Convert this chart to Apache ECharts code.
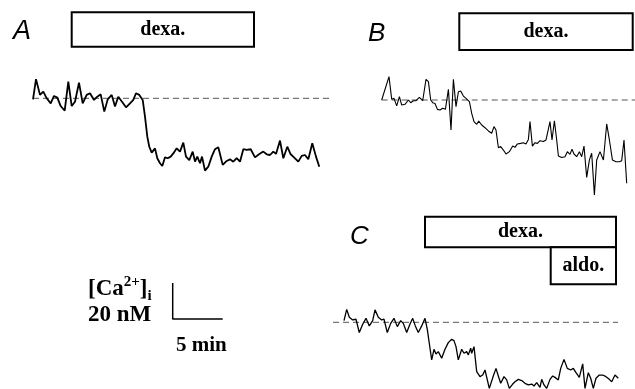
<!DOCTYPE html>
<html><head><meta charset="utf-8">
<script src="https://cdn.jsdelivr.net/npm/echarts@6/dist/echarts.min.js"></script>
<style>html,body{margin:0;padding:0;background:#fff}#c{width:635px;height:389px}</style>
</head><body><div id="c"></div>
<script>
// time in min, [Ca2+]i change in nM relative to baseline
var traceA = [[0,-0.6],[0.3,10.6],[0.7,1.9],[1.03,3.7],[1.37,0],[1.77,-2.8],[2.1,1.3],[2.43,0.4],[2.77,-4.3],[3.17,-6.9],[3.53,9.3],[3.87,-4.3],[4.2,-1.9],[4.6,8.7],[4.97,-2.8],[5.37,1.9],[5.7,2.8],[6.1,-0.9],[6.43,0.9],[6.77,2.2],[7.13,-7.4],[7.47,-0.6],[7.87,1.9],[8.2,-4.6],[8.53,0.9],[8.9,-1.9],[9.3,-5.0],[9.7,-2.8],[10.03,-0.9],[10.3,2.8],[10.63,1.9],[10.97,-0.9],[11.2,-10.2],[11.43,-21.3],[11.63,-26.9],[11.87,-30.2],[12.2,-27.8],[12.43,-33.3],[12.7,-36.1],[12.93,-37.6],[13.2,-32.8],[13.47,-33.3],[13.77,-32.4],[14.03,-30.6],[14.37,-27.8],[14.7,-29.6],[15.03,-24.6],[15.3,-32.4],[15.63,-34.3],[15.97,-29.6],[16.2,-35.2],[16.43,-32.4],[16.7,-36.1],[16.9,-32.4],[17.2,-40.2],[17.53,-38.0],[17.87,-32.4],[18.2,-28.3],[18.53,-27.2],[18.97,-37.0],[19.37,-34.8],[19.7,-33.9],[20.03,-35.2],[20.37,-33.3],[20.7,-35.2],[21.03,-28.3],[21.37,-28.7],[21.77,-28.3],[22.2,-32.8],[22.6,-31.1],[23.03,-29.6],[23.37,-31.1],[23.7,-31.5],[24.03,-29.6],[24.3,-30.9],[24.7,-23.5],[25.03,-33.3],[25.43,-26.9],[25.77,-31.1],[26.1,-32.8],[26.53,-35.2],[26.87,-32.0],[27.2,-31.5],[27.53,-33.9],[27.93,-25.0],[28.3,-32.4],[28.63,-38.0]];
var traceB = [[0,0],[0.73,13.0],[1.0,0.4],[1.23,0.9],[1.5,-3.3],[1.77,1.9],[2.0,-2.8],[2.33,-2.4],[2.67,0],[2.9,-1.5],[3.17,-0.4],[3.43,-0.4],[3.77,1.5],[4.1,-0.4],[4.43,11.5],[4.67,10.2],[4.9,0],[5.1,-1.5],[5.33,-1.9],[5.57,-5.2],[5.83,-5.6],[6.1,-4.6],[6.37,-5.2],[6.67,5.9],[6.93,-16.7],[7.17,11.5],[7.43,-3.7],[7.67,4.6],[7.9,5.0],[8.17,2.2],[8.43,0.9],[8.77,-0.9],[9.0,-7.4],[9.23,-12.0],[9.5,-13.5],[9.7,-11.7],[10.0,-13.9],[10.33,-15.4],[10.67,-17.2],[11.0,-18.5],[11.23,-14.8],[11.43,-16.7],[11.67,-26.5],[11.9,-25.9],[12.17,-27.8],[12.43,-30.0],[12.77,-28.7],[13.1,-25.6],[13.33,-26.3],[13.57,-24.4],[13.9,-24.1],[14.17,-23.7],[14.43,-24.4],[14.67,-21.9],[14.83,-12.0],[15.07,-25.6],[15.33,-23.7],[15.57,-24.1],[15.83,-22.6],[16.17,-23.1],[16.43,-22.2],[16.6,-23.1],[16.83,-12.0],[17.03,-22.2],[17.27,-11.5],[17.5,-22.2],[17.67,-31.1],[18.0,-31.9],[18.33,-31.5],[18.57,-28.7],[18.83,-30.2],[19.03,-27.4],[19.23,-30.0],[19.5,-31.5],[19.77,-28.7],[20.0,-31.5],[20.23,-25.6],[20.5,-43.0],[20.77,-33.3],[21.0,-29.6],[21.27,-52.8],[21.5,-33.3],[21.83,-28.7],[22.17,-33.3],[22.5,-13.3],[22.77,-22.2],[23.07,-33.3],[23.43,-34.3],[23.77,-34.3],[24.0,-33.7],[24.23,-22.2],[24.5,-46.3]];
var traceC = [[0,0.9],[0.27,7.2],[0.53,2.8],[0.87,1.3],[1.2,1.7],[1.53,-5.7],[1.87,-1.1],[2.2,2.2],[2.53,-2.0],[2.87,0.9],[3.1,6.9],[3.43,2.8],[3.77,1.3],[4.0,1.7],[4.33,-5.7],[4.67,-0.6],[5.0,2.2],[5.33,-2.4],[5.67,0.9],[5.93,-0.6],[6.27,-5.7],[6.6,-0.9],[6.87,2.2],[7.13,-2.0],[7.43,-5.7],[7.77,-2.0],[8.1,2.2],[8.33,-3.9],[8.6,-14.4],[8.77,-20.9],[9.0,-15.0],[9.2,-17.6],[9.43,-16.3],[9.77,-20.0],[10.1,-15.0],[10.43,-11.3],[10.77,-9.4],[11.0,-10.2],[11.2,-13.5],[11.43,-20.9],[11.77,-15.0],[12.0,-17.2],[12.27,-16.3],[12.43,-18.1],[12.67,-14.4],[12.77,-17.2],[13.0,-13.5],[13.27,-27.4],[13.6,-30.2],[13.87,-29.3],[14.1,-26.5],[14.53,-36.7],[14.93,-29.8],[15.2,-25.6],[15.43,-29.8],[15.67,-33.9],[16.0,-30.2],[16.27,-32.0],[16.53,-36.7],[16.87,-34.3],[17.1,-33.0],[17.43,-31.7],[17.77,-32.4],[18.1,-33.9],[18.43,-34.8],[18.77,-34.3],[19.0,-35.4],[19.27,-33.5],[19.6,-36.1],[19.77,-31.7],[20.0,-34.8],[20.27,-36.7],[20.6,-31.7],[20.87,-29.8],[21.1,-30.6],[21.43,-32.0],[21.67,-25.6],[22.0,-20.6],[22.33,-25.6],[22.67,-26.5],[22.93,-25.6],[23.2,-28.0],[23.53,-30.6],[23.87,-23.1],[24.1,-36.7],[24.43,-28.0],[24.67,-31.1],[24.93,-36.7],[25.2,-31.1],[25.53,-29.3],[25.87,-29.3],[26.2,-30.2],[26.53,-31.7],[26.77,-33.0],[27.1,-29.3],[27.43,-31.1]];
// baseline (dashed) extents [start, end] in min
var baseA = [0, 29.7];
var baseB = [0, 25.5];
var baseC = [-1.1, 27.4];
// treatment bars: [name, tStart, tEnd, top nM, bottom nM]
var boxesA = [['dexa.', 3.87, 22.1, 47.8, 28.7]];
var boxesB = [['dexa.', 7.76, 25.1, 48.2, 27.8]];
var boxesC = [['dexa.', 8.1, 27.2, 58.7, 41.7], ['aldo.', 20.67, 27.2, 41.7, 21.1]];
// scale bar: 5 min, 20 nM
var scaleBar = [[0, 20], [0, 0], [5, 0]];
var panelLabels = ['A', 'B', 'C'];

var serif = '"Liberation Serif","Times New Roman",serif';
var chart = echarts.init(document.getElementById('c'), null, {renderer: 'canvas'});

function mkArea(boxes) {
  return {
    silent: true,
    itemStyle: {color: '#fff', borderColor: '#000', borderWidth: 2},
    label: {show: true, position: 'inside', color: '#000', fontFamily: serif, fontWeight: 'bold', fontSize: 20},
    data: boxes.map(function (b) {
      return [{name: b[0], xAxis: b[1], yAxis: b[3]}, {xAxis: b[2], yAxis: b[4]}];
    })
  };
}
function baseSeries(idx, ext, boxes) {
  return {
    type: 'line', xAxisIndex: idx, yAxisIndex: idx, symbol: 'none', silent: true, clip: false,
    data: [[ext[0], 0], [ext[1], 0]],
    lineStyle: {color: '#555', width: 1, type: [6, 4]},
    markArea: mkArea(boxes), z: 1
  };
}
function traceSeries(idx, data, w) {
  return {
    type: 'line', xAxisIndex: idx, yAxisIndex: idx, symbol: 'none', silent: true, clip: false,
    data: data, lineStyle: {color: '#000', width: w}, z: 3
  };
}
var grids = [
  {left: 33, top: 8.3, width: 297, height: 270},
  {left: 381.7, top: 10, width: 260, height: 270},
  {left: 324, top: 196.3, width: 300, height: 216},
  {left: 172.7, top: 283, width: 50, height: 36}
].map(function (g) { g.outerBoundsMode = 'none'; g.containLabel = false; return g; });
var xr = [[0, 29.7], [0, 26], [-2, 28], [0, 5]];
var yr = [[-100, 50], [-100, 50], [-50, 70], [0, 20]];
var option = {
  animation: false,
  backgroundColor: '#fff',
  grid: grids,
  xAxis: xr.map(function (r, i) { return {type: 'value', gridIndex: i, min: r[0], max: r[1], show: false}; }),
  yAxis: yr.map(function (r, i) { return {type: 'value', gridIndex: i, min: r[0], max: r[1], show: false}; }),
  series: [
    baseSeries(0, baseA, boxesA), traceSeries(0, traceA, 1.8),
    baseSeries(1, baseB, boxesB), traceSeries(1, traceB, 1.1),
    baseSeries(2, baseC, boxesC), traceSeries(2, traceC, 1.3),
    {type: 'line', xAxisIndex: 3, yAxisIndex: 3, symbol: 'none', silent: true, clip: false,
     data: scaleBar, lineStyle: {color: '#000', width: 1.5}}
  ],
  graphic: [
    {type: 'text', left: 13, top: 18, style: {text: panelLabels[0], font: 'italic 27px "Liberation Sans", Arial, sans-serif', fill: '#000'}},
    {type: 'text', left: 368, top: 21, style: {text: panelLabels[1], font: 'italic 26px "Liberation Sans", Arial, sans-serif', fill: '#000'}},
    {type: 'text', left: 350, top: 224, style: {text: panelLabels[2], font: 'italic 26px "Liberation Sans", Arial, sans-serif', fill: '#000'}},
    {type: 'text', left: 88, top: 275, style: {
      text: '{a|[Ca}{s|2+}{a|]}{i|i}', fill: '#000',
      rich: {
        a: {fontFamily: serif, fontWeight: 'bold', fontSize: 23, lineHeight: 29},
        s: {fontFamily: serif, fontWeight: 'bold', fontSize: 15, verticalAlign: 'top', lineHeight: 29},
        i: {fontFamily: serif, fontWeight: 'bold', fontSize: 15, verticalAlign: 'bottom', lineHeight: 20}
      }}},
    {type: 'text', left: 88, top: 304, style: {text: '20 nM', font: 'bold 23px ' + serif, fill: '#000'}},
    {type: 'text', left: 176, top: 335, style: {text: '5 min', font: 'bold 21px ' + serif, fill: '#000'}}
  ]
};
chart.setOption(option);
</script></body></html>
